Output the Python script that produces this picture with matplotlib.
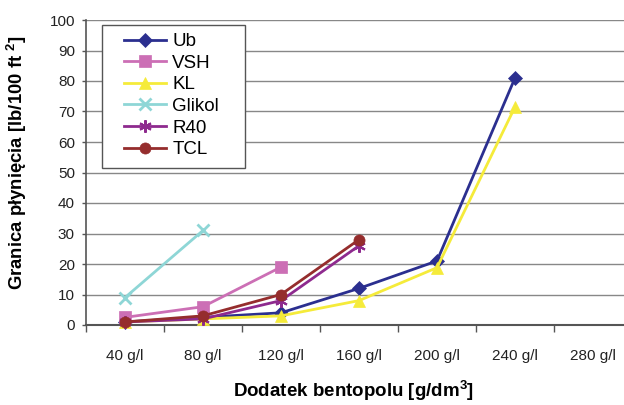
import matplotlib
matplotlib.use("Agg")
import matplotlib.pyplot as plt
from matplotlib.patches import Rectangle
import numpy as np

plt.rcParams['font.family'] = ['Liberation Sans', 'DejaVu Sans']
plt.rcParams['mathtext.fontset'] = 'custom'
plt.rcParams['mathtext.rm'] = 'Liberation Sans:bold'
plt.rcParams['mathtext.bf'] = 'Liberation Sans:bold'
plt.rcParams['mathtext.it'] = 'Liberation Sans:bold'

categories = ["40 g/l", "80 g/l", "120 g/l", "160 g/l", "200 g/l", "240 g/l", "280 g/l"]
ub = [1, 2.5, 4, 12, 21, 81]
vsh = [2.5, 6, 19]
kl = [1, 2, 3, 8, 18.8, 71.5]
glikol = [9, 31]
r40 = [1, 2, 8, 26]
tcl = [1, 3, 10, 28]

series = [
    ("Ub", ub, "#2B2F8F", "D", 7),
    ("VSH", vsh, "#CC6FB5", "s", 8),
    ("KL", kl, "#F5EB3A", "^", 9),
    ("Glikol", glikol, "#8ED6D6", "x", 8),
    ("R40", r40, "#8E2A8E", (6, 2, 0), 9),
    ("TCL", tcl, "#952D2D", "o", 8),
]

fig = plt.figure(figsize=(6.24, 4.05), dpi=100)
ax = fig.add_axes([86/624, 1-325/405, (632-86)/624, (325-20)/405])

for name, vals, col, mk, ms in series:
    x = np.arange(len(vals))
    kw = dict(markeredgewidth=2) if mk == "x" else dict(markeredgewidth=1.5 if mk == (6, 2, 0) else 0.5)
    ax.plot(x, vals, color=col, lw=2, marker=mk, markersize=ms,
            markerfacecolor=col, markeredgecolor=col, label=name, clip_on=False, zorder=3, **kw)

ax.set_xlim(-0.5, len(categories) - 0.5)
ax.set_ylim(0, 100)
ax.set_yticks(np.arange(0, 101, 10))
ax.set_xticks(np.arange(len(categories)))
ax.set_xticklabels(categories)
ax.set_xticks(np.arange(-0.5, len(categories), 1), minor=True)
ax.tick_params(axis='x', which='major', length=0, pad=17, labelsize=11, colors='#222222')
ax.tick_params(axis='x', which='minor', length=5, width=1, color='#555555')
ax.tick_params(axis='y', length=3, width=1, color='#555555', labelsize=11, labelcolor='#222222', pad=5)
ax.grid(axis='y', color='#888888', lw=1)
ax.set_axisbelow(True)
for s in ['top', 'right']:
    ax.spines[s].set_visible(False)
ax.spines['left'].set_color('#555555')
ax.spines['bottom'].set_color('#555555')
ax.spines['left'].set_linewidth(1.2)
ax.spines['bottom'].set_linewidth(1.5)

fig.text(17/624, 1-163/405, r"Granica płynięcia [lb/100 ft $^{2}$]", fontsize=13.3, fontweight='bold',
         ha='center', va='center', rotation=90)
fig.text(354/624, 1-391/405, r"Dodatek bentopolu [g/dm$^{3}$]", fontsize=13.5, fontweight='bold',
         ha='center', va='center')

# legend frame drawn separately (Excel-style wide box)
ax.add_patch(Rectangle((102/624, 1-168/405), (245-102)/624, (168-25)/405,
                       transform=fig.transFigure, facecolor='white', edgecolor='#555555',
                       lw=1, zorder=4, clip_on=False))
leg = ax.legend(loc='upper left', frameon=False, fontsize=13.5,
                handlelength=2.25, labelspacing=0.24, borderpad=0, handletextpad=0.32,
                borderaxespad=0, bbox_to_anchor=(124/624, 1-33/405), bbox_transform=fig.transFigure)
leg.set_zorder(5)

fig.savefig("out.png", dpi=100)
